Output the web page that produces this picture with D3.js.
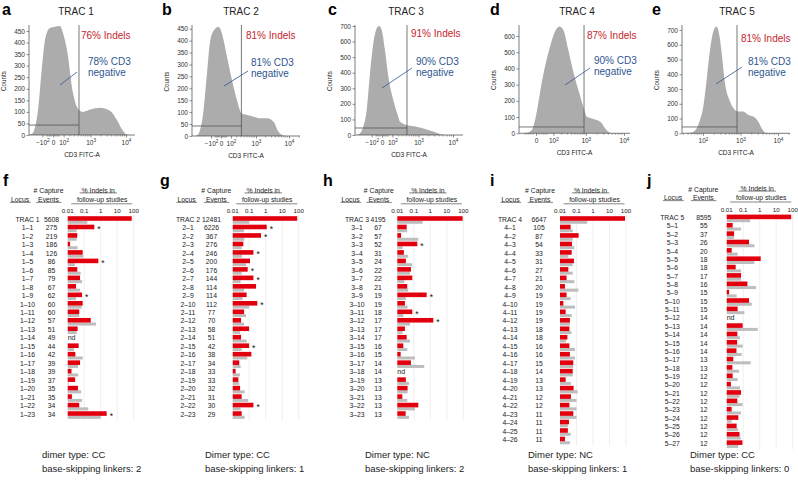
<!DOCTYPE html>
<html lang="en">
<head>
<meta charset="UTF-8" />
<title>TRAC nuclease indels and off-target follow-up</title>
<script src="https://d3js.org/d3.v7.min.js"></script>
<style>
  body { margin: 0; background: #fff; }
  svg { font-family: "Liberation Sans", Arial, sans-serif; }
  svg text { fill: #222; }
</style>
</head>
<body>
<svg id="fig" width="798" height="485"></svg>
<script>
  // ---------------- data: flow histograms (CD3 FITC-A value, counts) ----------------
  const fitc1 = [-420, -287, -164, -105, -69, -22, 14, 58, 92, 148, 263, 431, 583, 960, 1887, 3612, 5643, 7750, 10620, 13000];
  const cnt1  = [0, 5, 108, 295, 411, 463, 468, 472, 441, 368, 182, 108, 100, 110, 118, 105, 65, 25, 2, 0];
  const fitc2 = [-520, -412, -234, -165, -111, -49, -19, 7, 52, 115, 203, 315, 498, 834, 1366, 2197, 3478, 4900, 6890, 8500];
  const cnt2  = [0, 3, 109, 263, 402, 451, 458, 430, 333, 235, 151, 95, 88, 81, 74, 74, 60, 18, 2, 0];
  const fitc3 = [-450, -379, -246, -177, -123, -79, -43, -22, -2, 22, 53, 113, 195, 230, 411, 876, 1760, 3435, 5194, 6500];
  const cnt3  = [0, 3, 53, 160, 396, 589, 685, 700, 674, 546, 375, 225, 118, 86, 64, 53, 36, 15, 2, 0];
  const fitc4 = [-60, -41, -16, -3, 8, 22, 39, 72, 116, 166, 225, 321, 450, 625, 858, 1061, 1445, 1960, 2654, 3237, 4360, 5880];
  const cnt4  = [0, 3, 21, 82, 185, 308, 411, 534, 627, 658, 637, 514, 380, 267, 164, 103, 92, 82, 62, 31, 4, 0];
  const fitc5 = [30, 40, 50, 68, 83, 102, 125, 154, 188, 232, 272, 315, 386, 525, 713, 874, 1188, 1614, 2194, 2985, 3673, 4500, 5200];
  const cnt5  = [0, 4, 6, 34, 90, 181, 361, 565, 689, 723, 666, 542, 339, 215, 158, 147, 147, 124, 113, 79, 34, 5, 0];

  const titles    = ["TRAC 1", "TRAC 2", "TRAC 3", "TRAC 4", "TRAC 5"];
  const indelPct  = [76, 81, 91, 87, 81];
  const cd3NegPct = [78, 81, 90, 90, 81];
  const gateFitc  = [431, 310, 421, 896, 807];
  const gateCount = [43, 42, 45, 39, 43];

  // ---------------- data: capture events and follow-up indels ----------------
  const lociF = ["TRAC 1","1–1","1–2","1–3","1–4","1–5","1–6","1–7","1–8","1–9","1–10","1–11","1–12","1–13","1–14","1–15","1–16","1–17","1–18","1–19","1–20","1–21","1–22","1–23"];
  const eventsF = [5608,275,219,186,126,86,85,79,67,62,60,60,57,51,49,44,42,39,39,37,35,35,34,34];
  const redF  = [76,0.41,0.038,0.014,0.081,0.72,0.038,0.056,0.032,0.074,0.081,0.050,0.25,0.040,null,0.046,0.029,0.056,0.017,0.028,0.042,0.018,0.050,2.3];
  const grayF = [0.155,0.035,0.035,0.040,0.088,0.027,0.061,0.074,0.056,0.032,0.071,0.050,0.52,0.035,null,0.024,0.081,0.042,0.043,0.0115,0.065,0.074,0.178,1.0];
  const starF = ["1–1","1–5","1–9","1–23"];

  const lociG = ["TRAC 2","2–1","2–2","2–3","2–4","2–5","2–6","2–7","2–8","2–9","2–10","2–11","2–12","2–13","2–14","2–15","2–16","2–17","2–18","2–19","2–20","2–21","2–22","2–23"];
  const eventsG = [12481,6226,367,276,246,200,176,144,114,114,112,77,70,58,51,42,38,34,33,33,32,31,30,29];
  const redG  = [81,1.15,0.52,0.044,0.18,0.112,0.081,0.18,0.26,0.070,0.31,0.049,0.032,0.098,0.032,0.098,0.135,0.025,0.015,0.022,0.028,0.035,0.18,0.035];
  const grayG = [0.10,0.049,0.051,0.035,0.037,0.064,0.035,0.030,0.049,0.040,0.098,0.064,0.049,0.028,0.070,0.035,0.077,0.030,0.028,0.025,0.053,0.085,0.030,0.053];
  const starG = ["2–1","2–2","2–4","2–6","2–7","2–10","2–15","2–22"];

  const lociH = ["TRAC 3","3–1","3–2","3–3","3–4","3–5","3–6","3–7","3–8","3–9","3–10","3–11","3–12","3–13","3–14","3–15","3–16","3–17","3–18","3–19","3–20","3–21","3–22","3–23"];
  const eventsH = [4195,67,57,52,31,24,22,22,21,19,19,18,17,17,17,16,15,14,14,13,13,13,13,13];
  const redH  = [91,0.037,0.017,0.163,0.025,0.033,0.067,0.081,0.040,0.60,0.029,0.081,1.52,0.029,0.037,0.023,0.016,0.067,null,0.033,0.042,0.020,0.187,0.032];
  const grayH = [0.34,0.040,0.187,0.021,0.046,0.081,0.059,0.027,0.046,0.033,0.042,0.023,0.059,0.021,0.059,0.040,0.118,0.43,null,0.051,0.042,0.040,0.118,0.051];
  const starH = ["3–3","3–9","3–11","3–12"];

  const lociI = ["TRAC 4","4–1","4–2","4–3","4–4","4–5","4–6","4–7","4–8","4–9","4–10","4–11","4–12","4–13","4–14","4–15","4–16","4–17","4–18","4–19","4–20","4–21","4–22","4–23","4–24","4–25","4–26"];
  const eventsI = [6647,105,87,54,33,31,27,21,20,19,19,19,19,18,18,16,16,15,14,13,13,12,12,11,11,11,11];
  const redI  = [87,0.044,0.135,0.053,0.051,0.070,0.032,0.025,0.020,0.025,0.016,0.022,0.040,0.037,0.028,0.037,0.040,0.064,0.059,0.022,0.067,0.046,0.037,0.064,0.035,0.030,0.020];
  const grayI = [0.45,0.059,0.059,0.074,0.032,0.059,0.059,0.074,0.129,0.044,0.081,0.051,0.040,0.049,0.023,0.081,0.081,0.064,0.059,0.046,0.118,0.10,0.10,0.10,0.030,0.045,0.040];
  const starI = [];

  const lociJ = ["TRAC 5","5–1","5–2","5–3","5–4","5–5","5–6","5–7","5–8","5–9","5–10","5–11","5–12","5–13","5–14","5–15","5–16","5–17","5–18","5–19","5–20","5–21","5–22","5–23","5–24","5–25","5–26","5–27"];
  const eventsJ = [8595,55,37,26,20,18,18,17,16,15,15,15,14,14,14,14,14,13,13,12,12,12,12,12,12,12,12,12];
  const redJ  = [81,0.023,0.028,0.226,0.020,1.15,0.035,0.074,0.18,0.014,0.226,0.046,null,0.093,0.044,0.043,0.039,0.025,0.022,0.023,0.018,0.074,0.044,0.020,0.051,0.040,0.060,0.090];
  const grayJ = [0.26,0.074,0.028,0.48,0.046,0.48,0.074,0.074,0.60,0.040,0.33,0.118,null,0.76,0.064,0.093,0.081,0.285,0.056,0.046,0.064,0.059,0.093,0.074,0.020,0.050,0.070,0.050];
  const starJ = [];

  const dimerType = ["CC", "CC", "NC", "NC", "CC"];
  const skipLinkers = [2, 1, 2, 1, 0];

  const pctTicks = [0.01, 0.1, 1, 10, 100];

  // ---------------- colours ----------------
  const RED_TXT = "#c4262e", BLUE_TXT = "#2f5590", BAR_RED = "#e2000f", BAR_GRAY = "#bdbdbd", HIST = "#acacac";

  const svg = d3.select("#fig");

  // ---------------- top row: histograms ----------------
  const topPanels = [
    { letter: "a", letterX: 2,   titleX: 76,  left: 29,  right: 135, bottom: 135,   yMax: 450, yStep: 50,  yMaxPx: 31,
      type: "symlog", c: 106, p0: 53,  p1: 126, v0: 0,   xTicks: [-100, 0, 100, 1000, 10000], fitc: fitc1, counts: cnt1,
      indel: [81, 39], cd3: [88, 65], ptr: [60, 85, 77, 72] },
    { letter: "b", letterX: 162, titleX: 241, left: 192, right: 300, bottom: 136,   yMax: 450, yStep: 50,  yMaxPx: 28.7,
      type: "symlog", c: 106, p0: 221, p1: 289, v0: 0,   xTicks: [-100, 0, 100, 1000, 10000], fitc: fitc2, counts: cnt2,
      indel: [246, 39], cd3: [251, 66], ptr: [224, 86, 248, 71] },
    { letter: "c", letterX: 328, titleX: 406, left: 355, right: 463, bottom: 135,   yMax: 700, yStep: 100, yMaxPx: 26,
      type: "symlog", c: 106, p0: 382, p1: 453, v0: 0,   xTicks: [-100, 0, 100, 1000, 10000], fitc: fitc3, counts: cnt3,
      indel: [411, 37], cd3: [416, 65], ptr: [382, 88, 412, 68] },
    { letter: "d", letterX: 490, titleX: 577, left: 519, right: 630, bottom: 133.3, yMax: 600, yStep: 100, yMaxPx: 36,
      type: "symlog", c: 56,  p0: 536, p1: 624, v0: 0,   xTicks: [0, 100, 1000, 10000], fitc: fitc4, counts: cnt4,
      indel: [587, 39], cd3: [594, 64], ptr: [565, 85, 590, 68] },
    { letter: "e", letterX: 652, titleX: 737, left: 682, right: 790, bottom: 133.3, yMax: 700, yStep: 100, yMaxPx: 30,
      type: "log",    c: 0,   p0: 703, p1: 778, v0: 100, xTicks: [100, 1000, 10000], fitc: fitc5, counts: cnt5,
      indel: [741, 42], cd3: [748, 65], ptr: [716, 84, 742, 67] }
  ];
  const AXIS_TOP = 25;

  function supLabel(sel, d) {
    sel.text("");
    if (d === 0) { sel.text("0"); return; }
    const e = Math.round(Math.log10(Math.abs(d)));
    sel.append("tspan").text((d < 0 ? "−" : "") + "10");
    sel.append("tspan").attr("dy", "-0.5em").attr("font-size", "4.6px").text(e);
  }

  topPanels.forEach((p, i) => {
    const g = svg.append("g");
    const x = p.type === "log"
      ? d3.scaleLog().domain([p.v0, 10000]).range([p.p0, p.p1])
      : d3.scaleSymlog().constant(p.c).domain([p.v0, 10000]).range([p.p0, p.p1]);
    const y = d3.scaleLinear().domain([0, p.yMax]).range([p.bottom, p.yMaxPx]);

    g.append("text").attr("x", p.letterX).attr("y", 15).attr("font-size", "16px")
      .attr("font-weight", "bold").style("fill", "#000").text(p.letter);
    g.append("text").attr("x", p.titleX).attr("y", 15).attr("text-anchor", "middle")
      .attr("font-size", "10px").text(titles[i]);

    // histogram
    const clipId = "clip" + i;
    svg.append("clipPath").attr("id", clipId).append("rect")
      .attr("x", p.left).attr("y", AXIS_TOP).attr("width", p.right - p.left).attr("height", p.bottom - AXIS_TOP);
    const pts = p.fitc.map((v, k) => [v, p.counts[k]]);
    const area = d3.area().x(d => x(d[0])).y0(p.bottom).y1(d => y(d[1])).curve(d3.curveMonotoneX);
    g.append("path").datum(pts).attr("d", area).attr("fill", HIST).attr("clip-path", `url(#${clipId})`);

    // y axis
    const gy = g.append("g").attr("transform", `translate(${p.left},0)`)
      .call(d3.axisLeft(y).tickValues(d3.range(0, p.yMax + 1, p.yStep)).tickSize(2.5).tickPadding(1.5).tickSizeOuter(0));
    gy.select(".domain").remove();
    gy.selectAll("line").attr("stroke", "#444").attr("stroke-width", 0.6);
    gy.selectAll("text").attr("font-size", "6.5px").attr("font-family", null).style("fill", "#333");
    g.append("line").attr("x1", p.left).attr("x2", p.left).attr("y1", AXIS_TOP).attr("y2", p.bottom)
      .attr("stroke", "#444").attr("stroke-width", 0.7);

    // x axis
    const gx = g.append("g").attr("transform", `translate(0,${p.bottom})`)
      .call(d3.axisBottom(x).tickValues(p.xTicks).tickSize(2.5).tickPadding(2.5).tickSizeOuter(0));
    gx.select(".domain").remove();
    gx.selectAll("line").attr("stroke", "#444").attr("stroke-width", 0.6);
    gx.selectAll("text").attr("font-size", "6.5px").attr("font-family", null).style("fill", "#333")
      .each(function (d) { supLabel(d3.select(this), d); });
    g.append("line").attr("x1", p.left).attr("x2", p.right).attr("y1", p.bottom).attr("y2", p.bottom)
      .attr("stroke", "#444").attr("stroke-width", 0.7);

    // minor ticks
    let minor = [];
    [100, 1000, 10000].forEach(dec => d3.range(2, 10).forEach(k => minor.push(k * dec)));
    if (p.type === "log") d3.range(3, 10).forEach(k => minor.push(k * 10));
    else d3.range(-50, 51, 10).forEach(v => { if (v !== 0) minor.push(v); });
    minor = minor.filter(v => x(v) > p.left + 0.5 && x(v) < p.right);
    g.append("g").selectAll("line").data(minor).join("line")
      .attr("x1", d => x(d)).attr("x2", d => x(d))
      .attr("y1", p.bottom).attr("y2", p.bottom + 1.5)
      .attr("stroke", "#555").attr("stroke-width", 0.5);

    g.append("text").attr("x", (p.left + p.right) / 2).attr("y", p.bottom + 22)
      .attr("text-anchor", "middle").attr("font-size", "6.5px").text("CD3 FITC-A");
    g.append("text").attr("transform", `translate(${p.left - 23},${(p.bottom + AXIS_TOP) / 2 + 1}) rotate(-90)`)
      .attr("text-anchor", "middle").attr("font-size", "6.3px").text("Counts");

    // gate
    const gxv = x(gateFitc[i]), gyv = y(gateCount[i]);
    g.append("line").attr("x1", gxv).attr("x2", gxv).attr("y1", AXIS_TOP).attr("y2", p.bottom)
      .attr("stroke", "#555").attr("stroke-width", 0.8);
    g.append("line").attr("x1", p.left).attr("x2", gxv).attr("y1", gyv).attr("y2", gyv)
      .attr("stroke", "#555").attr("stroke-width", 0.8);

    // annotations
    g.append("text").attr("x", p.indel[0]).attr("y", p.indel[1]).attr("font-size", "10px")
      .style("fill", RED_TXT).text(`${indelPct[i]}% Indels`);
    g.append("text").attr("x", p.cd3[0]).attr("y", p.cd3[1]).attr("font-size", "10px")
      .style("fill", BLUE_TXT).text(`${cd3NegPct[i]}% CD3`);
    g.append("text").attr("x", p.cd3[0]).attr("y", p.cd3[1] + 11).attr("font-size", "10px")
      .style("fill", BLUE_TXT).text("negative");
    g.append("line").attr("x1", p.ptr[0]).attr("y1", p.ptr[1]).attr("x2", p.ptr[2]).attr("y2", p.ptr[3])
      .attr("stroke", BLUE_TXT).attr("stroke-width", 0.8);
  });

  // ---------------- bottom row: locus tables with bars ----------------
  const lists = [
    { letter: "f", letterX: 3,   locusX: 27.5,  locusHX: 20,    eventsX: 51.5,  eventsHX: 48.5,  axisX: 67.7,  y0: 219.3, step: 8.48, dy: 0,
      loci: lociF, events: eventsF, red: redF, gray: grayF, stars: starF, footX: 42,  dimer: "dimer type: " },
    { letter: "g", letterX: 160, locusX: 188,   locusHX: 186.5, eventsX: 211.5, eventsHX: 216.3, axisX: 232.7, y0: 219.3, step: 8.48, dy: 0,
      loci: lociG, events: eventsG, red: redG, gray: grayG, stars: starG, footX: 205, dimer: "Dimer type: " },
    { letter: "h", letterX: 323, locusX: 357,   locusHX: 350.5, eventsX: 378,   eventsHX: 378.8, axisX: 397.3, y0: 219.3, step: 8.48, dy: 0,
      loci: lociH, events: eventsH, red: redH, gray: grayH, stars: starH, footX: 365, dimer: "Dimer type: " },
    { letter: "i", letterX: 490, locusX: 510,   locusHX: 510.5, eventsX: 539,   eventsHX: 540,   axisX: 560,   y0: 219.3, step: 8.48, dy: 0,
      loci: lociI, events: eventsI, red: redI, gray: grayI, stars: starI, footX: 528, dimer: "Dimer type: " },
    { letter: "j", letterX: 647, locusX: 672.3, locusHX: 673,   eventsX: 703.8, eventsHX: 703.3, axisX: 726.7, y0: 217.7, step: 8.36, dy: -1.8,
      loci: lociJ, events: eventsJ, red: redJ, gray: grayJ, stars: starJ, footX: 690, dimer: "Dimer type: " }
  ];
  const FS = "6.8px";

  lists.forEach((p, i) => {
    const g = svg.append("g");
    const n = p.loci.length;
    const x = d3.scaleLog().domain([0.01, 100]).range([p.axisX, p.axisX + 66]);
    const y = d3.scalePoint().domain(p.loci).range([p.y0, p.y0 + (n - 1) * p.step]);
    const hy = p.dy;

    g.append("text").attr("x", p.letterX).attr("y", 186).attr("font-size", "16px")
      .attr("font-weight", "bold").style("fill", "#000").text(p.letter);

    // headers
    const head = (txt, cx, by) => g.append("text").attr("x", cx).attr("y", by + hy)
      .attr("text-anchor", "middle").attr("font-size", FS).text(txt);
    const underline = (t, pad) => {
      const b = t.node().getBBox();
      g.append("line").attr("x1", b.x - pad).attr("x2", b.x + b.width + pad)
        .attr("y1", b.y + b.height - 0.6).attr("y2", b.y + b.height - 0.6)
        .attr("stroke", "#333").attr("stroke-width", 0.6);
    };
    underline(head("Locus", p.locusHX, 202), 1);
    head("# Capture", p.eventsHX, 193.3);
    underline(head("Events", p.eventsHX, 202), 2);
    underline(head("% Indels in", p.axisX + 30.5, 192.5), 2);
    head("follow-up studies", p.axisX + 34.5, 202);
    g.append("line").attr("x1", p.axisX + 3.5).attr("x2", p.axisX + 64.5)
      .attr("y1", 203.8 + hy).attr("y2", 203.8 + hy).attr("stroke", "#333").attr("stroke-width", 0.6);

    // log axis labels and grid
    g.append("g").selectAll("text").data(pctTicks).join("text")
      .attr("x", d => x(d)).attr("y", 213.3 + hy).attr("text-anchor", "middle")
      .attr("font-size", "6.2px").text(d => d3.format("~g")(d));
    const yEnd = y(p.loci[n - 1]) + 6;
    g.append("g").selectAll("line").data(pctTicks.slice(1)).join("line")
      .attr("x1", d => x(d)).attr("x2", d => x(d)).attr("y1", 215 + hy).attr("y2", yEnd)
      .attr("stroke", "#e4e4e4").attr("stroke-width", 0.6);

    const rows = p.loci.map((l, k) => ({ locus: l, events: p.events[k], red: p.red[k], gray: p.gray[k] }));

    g.append("g").selectAll("text").data(rows).join("text")
      .attr("x", p.locusX).attr("y", d => y(d.locus) + 2.4).attr("text-anchor", "middle")
      .attr("font-size", FS).text(d => d.locus);
    g.append("g").selectAll("text").data(rows).join("text")
      .attr("x", p.eventsX).attr("y", d => y(d.locus) + 2.4).attr("text-anchor", "middle")
      .attr("font-size", FS).text(d => d.events);

    const valued = rows.filter(d => d.red !== null);
    g.append("g").selectAll("rect").data(valued).join("rect")
      .attr("x", x(0.01)).attr("y", d => y(d.locus) + 1.5)
      .attr("width", d => x(d.gray) - x(0.01)).attr("height", 3)
      .attr("fill", BAR_GRAY);
    g.append("g").selectAll("rect").data(valued).join("rect")
      .attr("x", x(0.01)).attr("y", d => y(d.locus) - 3.1)
      .attr("width", d => x(d.red) - x(0.01)).attr("height", 4.6)
      .attr("fill", BAR_RED);

    g.append("g").selectAll("text").data(rows.filter(d => d.red === null)).join("text")
      .attr("x", x(0.01)).attr("y", d => y(d.locus) + 2.4).attr("font-size", "7px").text("nd");

    g.append("g").selectAll("text").data(rows.filter(d => p.stars.includes(d.locus))).join("text")
      .attr("x", d => x(d.red) + 3).attr("y", d => y(d.locus) + 4.2)
      .attr("font-size", "8.5px").style("fill", "#111").text("*");

    // footer
    g.append("text").attr("x", p.footX).attr("y", 458).attr("font-size", "9.5px")
      .text(p.dimer + dimerType[i]);
    g.append("text").attr("x", p.footX).attr("y", 472).attr("font-size", "9.5px")
      .text("base-skipping linkers: " + skipLinkers[i]);
  });
</script>
</body>
</html>
